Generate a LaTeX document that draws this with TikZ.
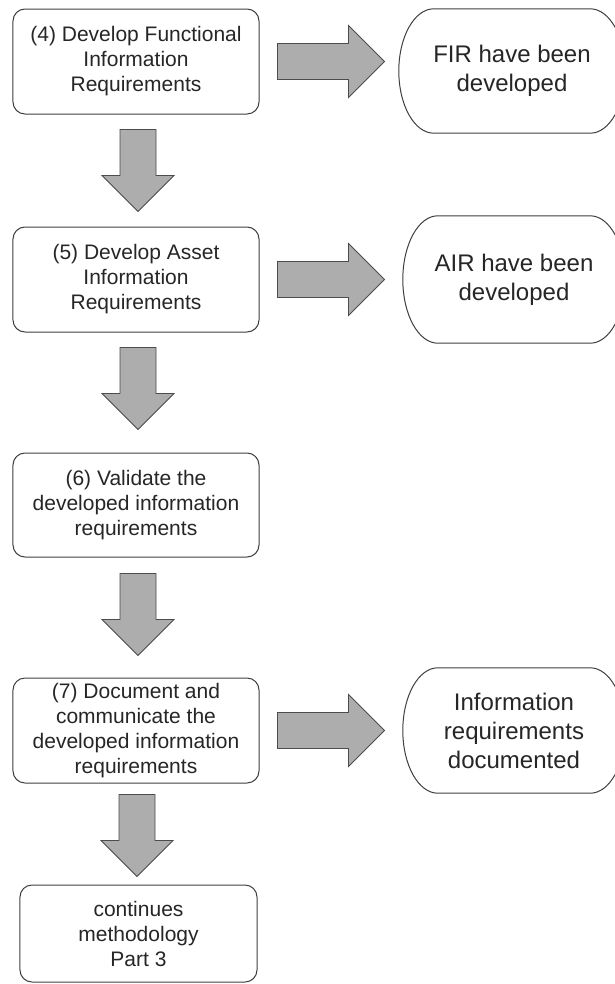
\documentclass[tikz,border=0pt]{standalone}
\usepackage{fontspec}
\setmainfont{Liberation Sans}
\usetikzlibrary{calc}

\tikzset{
  stepbox/.style={draw=black!75, line width=1bp, rounded corners=12bp,
    inner sep=0pt, align=center, text=black!85,
    font=\fontsize{21bp}{25bp}\selectfont},
  endtext/.style={inner sep=0pt, align=center, text=black!85,
    font=\fontsize{24bp}{29bp}\selectfont},
  endline/.style={draw=black!75, line width=1bp},
  blk/.style={draw=black!70, fill=black!32, line width=0.9bp, line join=miter},
}

% block arrow pointing down: #1 source node, #2 gap below it, #3 x shift
\newcommand\DownBlock[3]{%
  \draw[blk] let \p1=($(#1.south)+(#3,-#2)$) in
    (\x1-18bp,\y1) -- (\x1+18bp,\y1) -- (\x1+18bp,\y1-46bp) --
    (\x1+36bp,\y1-46bp) -- (\x1,\y1-82bp) -- (\x1-36bp,\y1-46bp) --
    (\x1-18bp,\y1-46bp) -- cycle;}

% block arrow pointing right: #1 source node, #2 gap beside it
\newcommand\RightBlock[2]{%
  \draw[blk] let \p1=($(#1.east)+(#2,0bp)$) in
    (\x1,\y1+18bp) -- (\x1+71bp,\y1+18bp) -- (\x1+71bp,\y1+36bp) --
    (\x1+107bp,\y1) -- (\x1+71bp,\y1-36bp) -- (\x1+71bp,\y1-18bp) --
    (\x1,\y1-18bp) -- cycle;}

% outcome outline: straight top and bottom, half-elliptical ends, around node #1
\newcommand\EndShape[1]{%
  \draw[endline] let \p1=(#1.north west), \p2=(#1.south east),
      \n1={(\y1-\y2)/2} in
    (\x1+35bp,\y1) -- (\x2-35bp,\y1)
    arc[start angle=90, end angle=-90, x radius=35bp, y radius=\n1]
    -- (\x1+35bp,\y2)
    arc[start angle=270, end angle=90, x radius=35bp, y radius=\n1]
    -- cycle;}

\begin{document}
\begin{tikzpicture}[x=1bp, y=-1bp]
  \useasboundingbox (0,0) rectangle (615,984);
  \fill[white] (0,0) rectangle (615,984);
  \clip (0,0) rectangle (615,984);

  % process steps
  \node[stepbox, minimum width=246bp, minimum height=105bp] (s4) at (136,61.5)
    {(4) Develop Functional\\Information\\Requirements};
  \node[stepbox, minimum width=246bp, minimum height=105bp] (s5) at (136,279.5)
    {(5) Develop Asset\\Information\\Requirements};
  \node[stepbox, minimum width=246bp, minimum height=104bp] (s6) at (136,505)
    {(6) Validate the\\developed information\\requirements};
  \node[stepbox, minimum width=246bp, minimum height=105bp] (s7) at (136,730.5)
    {(7) Document and\\communicate the\\developed information\\requirements};
  \node[stepbox, minimum width=237bp, minimum height=97bp] (s8) at (138.5,933.5)
    {continues\\methodology\\Part 3};

  % outcomes
  \node[endtext, minimum width=226bp, minimum height=124bp] (o1) at (512,71)
    {FIR have been\\developed};
  \node[endtext, minimum width=222bp, minimum height=127bp] (o2) at (514,279.5)
    {AIR have been\\developed};
  \node[endtext, minimum width=222bp, minimum height=125bp] (o3) at (514,730.5)
    {Information\\requirements\\documented};
  \EndShape{o1}
  \EndShape{o2}
  \EndShape{o3}

  % flow between steps
  \DownBlock{s4}{15bp}{2bp}
  \DownBlock{s5}{15bp}{2bp}
  \DownBlock{s6}{16bp}{2bp}
  \DownBlock{s7}{11bp}{1bp}

  % steps to outcomes
  \RightBlock{s4}{18bp}
  \RightBlock{s5}{18bp}
  \RightBlock{s7}{18bp}
\end{tikzpicture}
\end{document}
